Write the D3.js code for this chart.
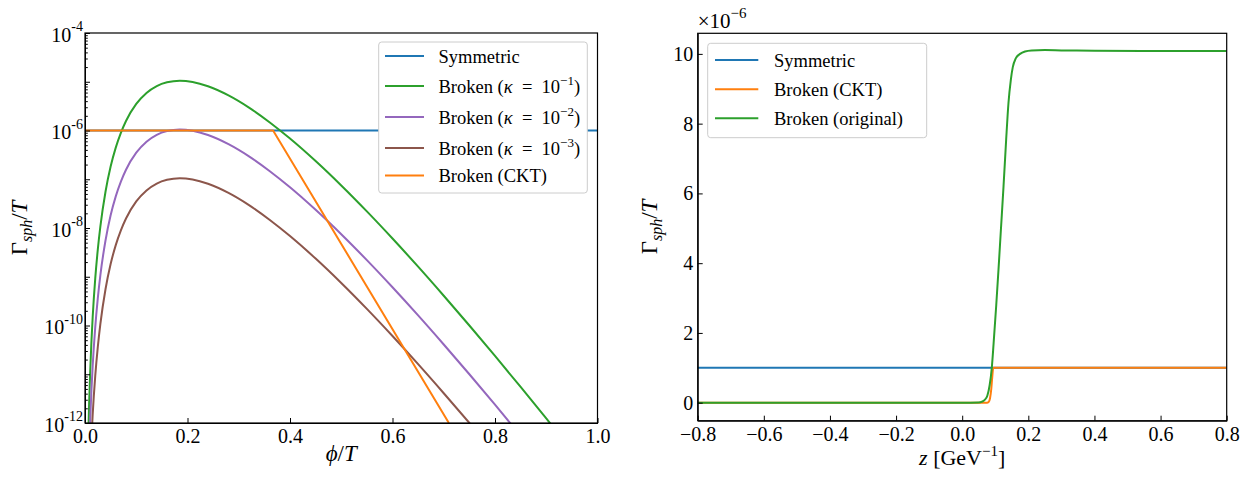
<!DOCTYPE html>
<html>
<head>
<meta charset="utf-8">
<script src="https://cdn.jsdelivr.net/npm/d3@7"></script>
<style>
  body { margin: 0; background: #fff; }
  svg text { font-family: "Liberation Serif", "DejaVu Serif", serif; fill: #000; }
</style>
</head>
<body>
<svg id="chart" width="1255" height="477"></svg>
<script>
// ---------- left panel: sphaleron rate vs phi/T (log scale) ----------
const phi = [0.004, 0.006, 0.008, 0.010, 0.0125, 0.015, 0.02, 0.025, 0.03, 0.04, 0.05, 0.06, 0.07, 0.08,
             0.10, 0.12, 0.14, 0.16, 0.185, 0.21, 0.24, 0.28, 0.32, 0.36, 0.40, 0.45, 0.50, 0.55, 0.60,
             0.65, 0.70, 0.75, 0.80, 0.85, 0.90, 0.95, 1.00];
const rateKappa1 = [2.16e-14, 3.43e-13, 2.38e-12, 1.05e-11, 4.57e-11, 1.49e-10, 9.25e-10, 3.64e-9, 1.08e-8, 5.55e-8,
                    1.82e-7, 4.46e-7, 8.97e-7, 1.57e-6, 3.51e-6, 5.90e-6, 8.17e-6, 9.75e-6, 1.05e-5, 9.89e-6,
                    8.09e-6, 5.25e-6, 2.95e-6, 1.48e-6, 6.84e-7, 2.36e-7, 7.45e-8, 2.19e-8, 6.08e-9, 1.61e-9,
                    4.08e-10, 1.00e-10, 2.37e-11, 5.48e-12, 1.24e-12, 2.73e-13, 5.89e-14];
const rateKappa2 = [2.16e-15, 3.43e-14, 2.38e-13, 1.05e-12, 4.57e-12, 1.49e-11, 9.25e-11, 3.64e-10, 1.08e-9, 5.55e-9,
                    1.82e-8, 4.46e-8, 8.97e-8, 1.57e-7, 3.51e-7, 5.90e-7, 8.17e-7, 9.75e-7, 1.05e-6, 9.89e-7,
                    8.09e-7, 5.25e-7, 2.95e-7, 1.48e-7, 6.84e-8, 2.36e-8, 7.45e-9, 2.19e-9, 6.08e-10, 1.61e-10,
                    4.08e-11, 1.00e-11, 2.37e-12, 5.48e-13, 1.24e-13, 2.73e-14, 5.89e-15];
const rateKappa3 = [2.16e-16, 3.43e-15, 2.38e-14, 1.05e-13, 4.57e-13, 1.49e-12, 9.25e-12, 3.64e-11, 1.08e-10, 5.55e-10,
                    1.82e-9, 4.46e-9, 8.97e-9, 1.57e-8, 3.51e-8, 5.90e-8, 8.17e-8, 9.75e-8, 1.05e-7, 9.89e-8,
                    8.09e-8, 5.25e-8, 2.95e-8, 1.48e-8, 6.84e-9, 2.36e-9, 7.45e-10, 2.19e-10, 6.08e-11, 1.61e-11,
                    4.08e-12, 1.00e-12, 2.37e-13, 5.48e-14, 1.24e-14, 2.73e-15, 5.89e-16];
const symPhi = [0, 1];
const symRate = [1e-6, 1e-6];
const cktPhi = [0, 0.367, 0.71];
const cktRate = [1e-6, 1e-6, 1e-12];
const phiTicks = [0, 0.2, 0.4, 0.6, 0.8, 1.0];
const decadeLabels = [-4, -6, -8, -10, -12];

// ---------- right panel: rate vs z (units of 1e-6) ----------
const zSym = [-0.8, 0.8];
const rateSymZ = [1, 1];
const zCkt = [-0.8, 0.075, 0.080, 0.084, 0.088, 0.091, 0.094, 0.8];
const rateCktZ = [0, 0, 0.02, 0.12, 0.40, 0.75, 1.0, 1.0];
const zOrig = [-0.8, 0.0, 0.05, 0.06, 0.068, 0.076, 0.083, 0.0895, 0.095, 0.103, 0.11, 0.117, 0.125, 0.133,
               0.14, 0.147, 0.153, 0.162, 0.175, 0.19, 0.21, 0.25, 0.3, 0.4, 0.6, 0.8];
const rateOrigZ = [0, 0, 0.005, 0.03, 0.08, 0.2, 0.5, 1.0, 1.7, 2.8, 3.85, 4.95, 6.2, 7.55,
                   8.6, 9.25, 9.62, 9.87, 10.0, 10.07, 10.1, 10.11, 10.1, 10.09, 10.08, 10.08];
const zTicks = [-0.8, -0.6, -0.4, -0.2, 0.0, 0.2, 0.4, 0.6, 0.8];
const rTicks = [0, 2, 4, 6, 8, 10];

const C = { blue: "#1f77b4", orange: "#ff7f0e", green: "#2ca02c", purple: "#9467bd", brown: "#8c564b" };
const svg = d3.select("#chart");
const TICK_FONT = 20;

function pairs(xs, ys) { return xs.map((v, i) => [v, ys[i]]); }

// ===== left panel =====
const L = { left: 85, right: 597.5, top: 33, bottom: 423 };
const xL = d3.scaleLinear().domain([0, 1]).range([L.left, L.right]);
const yL = d3.scaleLog().domain([1e-12, 1e-4]).range([L.bottom, L.top]);

svg.append("clipPath").attr("id", "clipL").append("rect")
  .attr("x", L.left).attr("y", L.top).attr("width", L.right - L.left).attr("height", L.bottom - L.top);

const gL = svg.append("g");
const lineL = d3.line().x(d => xL(d[0])).y(d => yL(Math.max(d[1], 1e-20)));
const seriesL = [
  { data: pairs(symPhi, symRate), color: C.blue, curve: d3.curveLinear },
  { data: pairs(phi, rateKappa1), color: C.green, curve: d3.curveMonotoneX },
  { data: pairs(phi, rateKappa2), color: C.purple, curve: d3.curveMonotoneX },
  { data: pairs(phi, rateKappa3), color: C.brown, curve: d3.curveMonotoneX },
  { data: pairs(cktPhi, cktRate), color: C.orange, curve: d3.curveLinear }
];
const plotL = gL.append("g").attr("clip-path", "url(#clipL)");
seriesL.forEach(s => {
  plotL.append("path").attr("d", lineL.curve(s.curve)(s.data))
    .attr("fill", "none").attr("stroke", s.color).attr("stroke-width", 2).attr("stroke-linejoin", "round");
});

// x axis (ticks pointing inward)
const axL = gL.append("g").attr("transform", `translate(0,${L.bottom})`)
  .call(d3.axisBottom(xL).tickValues(phiTicks).tickFormat(d3.format(".1f")).tickSizeInner(-5).tickSizeOuter(0).tickPadding(6));
axL.selectAll("text").attr("font-size", TICK_FONT);

// y axis: decade ticks, minor ticks, labels with superscripts
const minorVals = [];
for (let e = -12; e < -4; e++) for (let k = 2; k <= 9; k++) minorVals.push(k * Math.pow(10, e));
const majorVals = d3.range(-12, -3).map(e => Math.pow(10, e));
const ayL = gL.append("g").attr("transform", `translate(${L.left},0)`);
ayL.call(d3.axisLeft(yL).tickValues(majorVals).tickFormat("").tickSizeInner(-5).tickSizeOuter(0));
ayL.append("g").call(d3.axisLeft(yL).tickValues(minorVals).tickFormat("").tickSizeInner(-2.8).tickSizeOuter(0))
  .select(".domain").remove();
decadeLabels.forEach(e => {
  const t = ayL.append("text").attr("x", -2).attr("y", yL(Math.pow(10, e)) + 8.5)
    .attr("text-anchor", "end").attr("font-size", TICK_FONT);
  t.append("tspan").text("10");
  t.append("tspan").attr("font-size", 14).attr("dy", -10.5).text(String(e));
});

// frame
gL.append("rect").attr("x", L.left).attr("y", L.top).attr("width", L.right - L.left).attr("height", L.bottom - L.top)
  .attr("fill", "none").attr("stroke", "#000").attr("stroke-width", 1.2);

// axis labels
const xlabL = gL.append("text").attr("x", (L.left + L.right) / 2).attr("y", 461).attr("text-anchor", "middle").attr("font-size", 23);
xlabL.append("tspan").attr("font-style", "italic").text("ϕ");
xlabL.append("tspan").text("/");
xlabL.append("tspan").attr("font-style", "italic").text("T");

function yLabel(g, cx, cy) {
  const t = g.append("text").attr("transform", `translate(${cx},${cy}) rotate(-90)`)
    .attr("text-anchor", "middle").attr("font-size", 23);
  t.append("tspan").text("Γ");
  t.append("tspan").attr("font-style", "italic").attr("font-size", 16).attr("dy", 5).text("sph");
  t.append("tspan").attr("dy", -5).text("/");
  t.append("tspan").attr("font-style", "italic").text("T");
}
yLabel(gL, 27, (L.top + L.bottom) / 2);

// legend
function legend(g, box, rows, lineX0, lineX1, textX) {
  g.append("rect").attr("x", box.x).attr("y", box.y).attr("width", box.w).attr("height", box.h)
    .attr("rx", 3).attr("fill", "#fff").attr("stroke", "#cccccc").attr("stroke-width", 1);
  rows.forEach(r => {
    g.append("line").attr("x1", lineX0).attr("x2", lineX1).attr("y1", r.y).attr("y2", r.y)
      .attr("stroke", r.color).attr("stroke-width", 2);
    const t = g.append("text").attr("x", textX).attr("y", r.y + 6.5).attr("font-size", 18.5);
    r.parts.forEach(p => {
      const s = t.append("tspan").text(p.t);
      if (p.it) s.attr("font-style", "italic");
      if (p.sup) s.attr("font-size", 13).attr("dy", -8);
      if (p.down) s.attr("dy", 8);
    });
  });
}
const kappaParts = n => [{ t: "Broken (" }, { t: "κ", it: true }, { t: "\u2002=\u200210" }, { t: "−" + n, sup: true }, { t: ")", down: true }];
legend(gL, { x: 378.7, y: 42, w: 208.6, h: 151 }, [
  { y: 56, color: C.blue, parts: [{ t: "Symmetric" }] },
  { y: 86, color: C.green, parts: kappaParts(1) },
  { y: 117, color: C.purple, parts: kappaParts(2) },
  { y: 148, color: C.brown, parts: kappaParts(3) },
  { y: 175.5, color: C.orange, parts: [{ t: "Broken (CKT)" }] }
], 385, 424, 438.5);

// ===== right panel =====
const R = { left: 697.7, right: 1226.7, top: 33.3, bottom: 420.7 };
const xR = d3.scaleLinear().domain([-0.8, 0.8]).range([R.left, R.right]);
const yR = d3.scaleLinear().domain([-0.516, 10.59]).range([R.bottom, R.top]);

svg.append("clipPath").attr("id", "clipR").append("rect")
  .attr("x", R.left).attr("y", R.top).attr("width", R.right - R.left).attr("height", R.bottom - R.top);

const gR = svg.append("g");
const lineR = d3.line().x(d => xR(d[0])).y(d => yR(d[1]));
const plotR = gR.append("g").attr("clip-path", "url(#clipR)");
[
  { data: pairs(zSym, rateSymZ), color: C.blue, curve: d3.curveLinear },
  { data: pairs(zCkt, rateCktZ), color: C.orange, curve: d3.curveMonotoneX },
  { data: pairs(zOrig, rateOrigZ), color: C.green, curve: d3.curveMonotoneX }
].forEach(s => {
  plotR.append("path").attr("d", lineR.curve(s.curve)(s.data))
    .attr("fill", "none").attr("stroke", s.color).attr("stroke-width", 2).attr("stroke-linejoin", "round");
});

const axR = gR.append("g").attr("transform", `translate(0,${R.bottom})`)
  .call(d3.axisBottom(xR).tickValues(zTicks).tickFormat(d3.format(".1f")).tickSizeInner(-5).tickSizeOuter(0).tickPadding(6));
axR.selectAll("text").attr("font-size", TICK_FONT);
const ayR = gR.append("g").attr("transform", `translate(${R.left},0)`)
  .call(d3.axisLeft(yR).tickValues(rTicks).tickFormat(d3.format("d")).tickSizeInner(-5).tickSizeOuter(0).tickPadding(4.5));
ayR.selectAll("text").attr("font-size", TICK_FONT);

gR.append("rect").attr("x", R.left).attr("y", R.top).attr("width", R.right - R.left).attr("height", R.bottom - R.top)
  .attr("fill", "none").attr("stroke", "#000").attr("stroke-width", 1.2);

// scale factor above the axis
const off = gR.append("text").attr("x", R.left).attr("y", 28).attr("font-size", 21);
off.append("tspan").text("×10");
off.append("tspan").attr("font-size", 15).attr("dy", -10).text("−6");

const xlabR = gR.append("text").attr("x", (R.left + R.right) / 2).attr("y", 465).attr("text-anchor", "middle").attr("font-size", 22);
xlabR.append("tspan").attr("font-style", "italic").text("z");
xlabR.append("tspan").text(" [GeV");
xlabR.append("tspan").attr("font-size", 15).attr("dy", -9).text("−1");
xlabR.append("tspan").attr("dy", 9).text("]");

yLabel(gR, 657, (R.top + R.bottom) / 2);

legend(gR, { x: 707.7, y: 43.3, w: 219, h: 94.4 }, [
  { y: 60, color: C.blue, parts: [{ t: "Symmetric" }] },
  { y: 89.3, color: C.orange, parts: [{ t: "Broken (CKT)" }] },
  { y: 118.3, color: C.green, parts: [{ t: "Broken (original)" }] }
], 715, 758.3, 774);
</script>
</body>
</html>
